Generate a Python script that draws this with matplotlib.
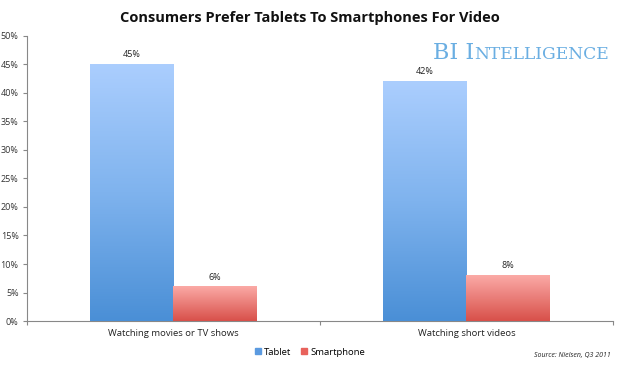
import matplotlib.pyplot as plt
import numpy as np
from matplotlib.colors import LinearSegmentedColormap

# data
categories = ["Watching movies or TV shows", "Watching short videos"]
tablet = [45, 42]
smartphone = [6, 8]
series_names = ["Tablet", "Smartphone"]

fig = plt.figure(figsize=(6.2, 3.65), dpi=100)
ax = fig.add_axes([0.0435, 0.1205, 0.945, 0.781])

x = np.arange(len(categories))
w = 0.285
tab_cmap = LinearSegmentedColormap.from_list("tab", ["#4a8fd6", "#7fb3ee", "#abcefe"])
sm_cmap = LinearSegmentedColormap.from_list("sm", ["#d8504a", "#fbaaa6"])
grad = np.linspace(0, 1, 256).reshape(-1, 1)

bars_t = ax.bar(x - w / 2, tablet, w, color="#7fb2ec", label=series_names[0], zorder=2)
bars_s = ax.bar(x + w / 2, smartphone, w, color="#f08a84", label=series_names[1], zorder=2)

# gradient fill inside each bar
for bars, cmap in ((bars_t, tab_cmap), (bars_s, sm_cmap)):
    for b in bars:
        x0, y0 = b.get_x(), b.get_y()
        ax.imshow(grad, cmap=cmap, aspect="auto", origin="lower",
                  extent=(x0, x0 + b.get_width(), y0, y0 + b.get_height()), zorder=3)

for bars, vals in ((bars_t, tablet), (bars_s, smartphone)):
    for b, v in zip(bars, vals):
        ax.text(b.get_x() + b.get_width() / 2, v + 0.9, f"{v}%", ha="center", va="bottom",
                fontsize=6.5, color="#222222", family="Open Sans")

ax.set_xlim(-0.5, 1.5)
ax.set_ylim(0, 50)
ax.set_yticks(range(0, 51, 5))
ax.set_yticklabels([f"{t}%" for t in range(0, 51, 5)], fontsize=6.5, family="Open Sans", color="#333333")
ax.set_xticks([-0.5, 0.5, 1.5])
ax.set_xticklabels([])
ax.set_xticks(x, minor=True)
ax.set_xticklabels(categories, minor=True, fontsize=6.8, family="Open Sans", color="#222222")
ax.tick_params(axis="x", which="major", length=3, color="#888888")
ax.tick_params(axis="x", which="minor", length=0, pad=6)
ax.tick_params(axis="y", length=3, color="#888888", pad=3)
for s in ["top", "right"]:
    ax.spines[s].set_visible(False)
for s in ["left", "bottom"]:
    ax.spines[s].set_color("#888888")
    ax.spines[s].set_linewidth(0.8)

# legend
h = [plt.Rectangle((0, 0), 1, 1, color="#5b9ae0"), plt.Rectangle((0, 0), 1, 1, color="#e8625c")]
fig.legend(h, series_names, loc="center", bbox_to_anchor=(0.5, 0.035), ncol=2, frameon=False,
           prop={"family": "Open Sans", "size": 6.8}, handlelength=0.6, handleheight=0.6,
           handletextpad=0.4, columnspacing=1.0)

fig.text(0.5, 0.95, "Consumers Prefer Tablets To Smartphones For Video", ha="center", va="center",
         fontsize=10.5, fontweight="bold", family="Open Sans", color="#111111")
fig.text(0.985, 0.027, "Source: Nielsen, Q3 2011", ha="right", va="center", fontsize=5,
         style="italic", family="Open Sans", color="#222222")

# BI Intelligence logo in small caps
logo_color = "#6aaee2"
t1 = fig.text(0.698, 0.838, "BI I", ha="left", va="baseline", fontsize=16,
              family="DejaVu Serif", color=logo_color)
fig.canvas.draw()
bb = t1.get_window_extent().transformed(fig.transFigure.inverted())
fig.text(bb.x1 + 0.001, 0.838, "NTELLIGENCE", ha="left", va="baseline", fontsize=12.3,
         family="DejaVu Serif", color=logo_color)

fig.savefig("out.png", dpi=100)
